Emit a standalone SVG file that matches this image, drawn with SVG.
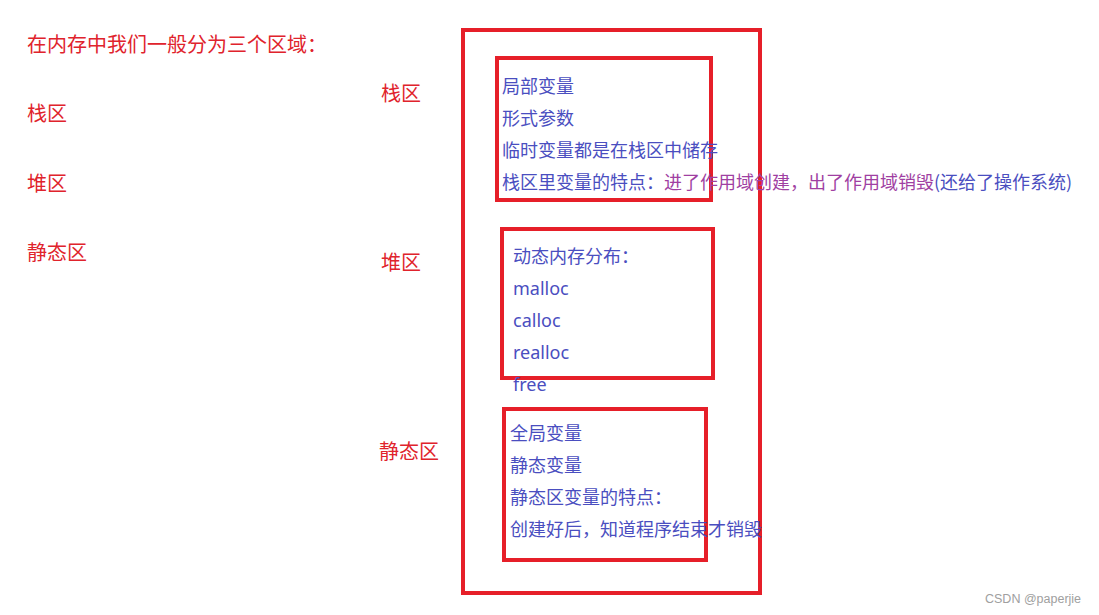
<svg xmlns="http://www.w3.org/2000/svg" width="1099" height="615" viewBox="0 0 1099 615">
<style>
.box{fill:none;stroke:#e61f29;stroke-width:4}
.red{fill:#e0232c;font-family:"Noto Sans CJK SC",sans-serif;font-size:20px}
.blue{fill:#4a4ec0;font-family:"Noto Sans CJK SC",sans-serif;font-size:18px}
.lat{font-family:"Noto Sans","Noto Sans CJK SC",sans-serif;font-size:18px}
.pur{fill:#a03fa2}
.wm{fill:#a0a0a0;font-family:"Liberation Sans",sans-serif;font-size:12.5px}
</style>
<rect width="1099" height="615" fill="#fff"/>
<g id="left-labels">
<text class="red" x="27" y="52">在内存中我们一般分为三个区域：</text>
<text class="red" x="27" y="121">栈区</text>
<text class="red" x="27" y="191">堆区</text>
<text class="red" x="27" y="260">静态区</text>
</g>
<g id="outer">
<rect class="box" x="463" y="30" width="297" height="563"/>
</g>
<g id="stack">
<text class="red" x="381" y="101">栈区</text>
<rect class="box" x="497" y="58" width="214" height="142"/>
<text class="blue" x="502" y="93">局部变量</text>
<text class="blue" x="502" y="125">形式参数</text>
<text class="blue" x="502" y="157">临时变量都是在栈区中储存</text>
<text class="blue" x="502" y="189">栈区里变量的特点：<tspan class="pur">进了作用域创建，出了作用域销毁</tspan>(还给了操作系统)</text>
</g>
<g id="heap">
<text class="red" x="381" y="270">堆区</text>
<rect class="box" x="502" y="229" width="211" height="149"/>
<text class="blue" x="513" y="263">动态内存分布：</text>
<text class="blue lat" x="513" y="295">malloc</text>
<text class="blue lat" x="513" y="327">calloc</text>
<text class="blue lat" x="513" y="359">realloc</text>
<text class="blue lat" x="513" y="391">free</text>
</g>
<g id="static">
<text class="red" x="379" y="459">静态区</text>
<rect class="box" x="504" y="409" width="202" height="151"/>
<text class="blue" x="510" y="440">全局变量</text>
<text class="blue" x="510" y="472">静态变量</text>
<text class="blue" x="510" y="504">静态区变量的特点：</text>
<text class="blue" x="510" y="536">创建好后，知道程序结束才销毁</text>
</g>
<g id="connectors"></g>
<text class="wm" x="985" y="603">CSDN @paperjie</text>
</svg>
